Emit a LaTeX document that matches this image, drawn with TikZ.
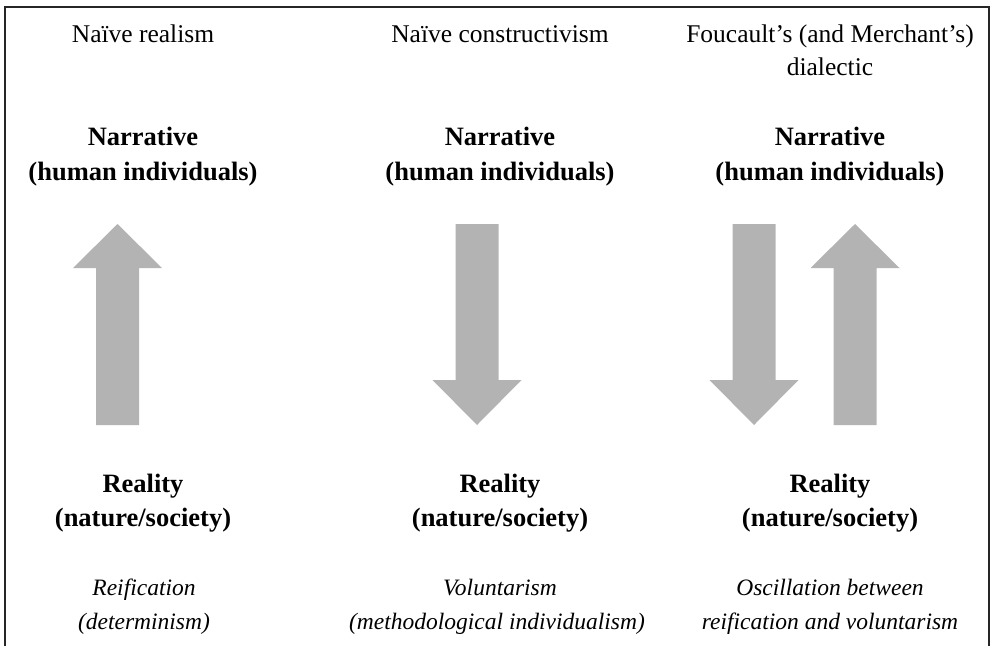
\documentclass[tikz,border=0pt]{standalone}
\usepackage{fontspec}
\setmainfont{Liberation Serif}
\definecolor{arrowgray}{HTML}{B3B3B3}
\tikzset{
  headtext/.style={anchor=base, inner sep=0pt, font=\fontsize{25.5}{30}\selectfont},
  boldtext/.style={anchor=base, inner sep=0pt, font=\fontsize{26.5}{30}\selectfont\bfseries},
  notetext/.style={anchor=base, inner sep=0pt, font=\fontsize{23.5}{28}\selectfont\itshape},
  blockarrow/.style={fill=arrowgray, draw=none},
  framepath/.style={draw=black!85, line width=1.1pt}
}
\newcommand\UpBlk[1]{\fill[blockarrow] (#1-21.5,425) -- (#1-21.5,268) -- (#1-44.5,268) -- (#1,224) -- (#1+44.5,268) -- (#1+21.5,268) -- (#1+21.5,425) -- cycle;}
\newcommand\DownBlk[1]{\fill[blockarrow] (#1-21.5,224) -- (#1+21.5,224) -- (#1+21.5,380) -- (#1+44.5,380) -- (#1,425) -- (#1-44.5,380) -- (#1-21.5,380) -- cycle;}
\begin{document}
\begin{tikzpicture}[x=1pt,y=-1pt]
\useasboundingbox (0,0) rectangle (995,646);
% frame
\draw[framepath] (5,646) -- (5,7) -- (989,7) -- (989,646);
% titles
\node[headtext] (t1) at (143,42) {Naïve realism};
\node[headtext] (t2) at (500,42) {Naïve constructivism};
\node[headtext] (t3a) at (830,42) {Foucault’s (and Merchant’s)};
\node[headtext] (t3b) at (830,75) {dialectic};
% narrative
\node[boldtext] (n1a) at (143,145) {Narrative};
\node[boldtext] (n1b) at (143,180) {(human individuals)};
\node[boldtext] (n2a) at (500,145) {Narrative};
\node[boldtext] (n2b) at (500,180) {(human individuals)};
\node[boldtext] (n3a) at (830,145) {Narrative};
\node[boldtext] (n3b) at (830,180) {(human individuals)};
% arrows
\UpBlk{117.5}
\DownBlk{477}
\DownBlk{754}
\UpBlk{855}
% reality
\node[boldtext] (r1a) at (143,492) {Reality};
\node[boldtext] (r1b) at (143,526) {(nature/society)};
\node[boldtext] (r2a) at (500,492) {Reality};
\node[boldtext] (r2b) at (500,526) {(nature/society)};
\node[boldtext] (r3a) at (830,492) {Reality};
\node[boldtext] (r3b) at (830,526) {(nature/society)};
% notes
\node[notetext] (e1a) at (144,595) {Reification};
\node[notetext] (e1b) at (144,629) {(determinism)};
\node[notetext] (e2a) at (500,595) {Voluntarism};
\node[notetext] (e2b) at (497,629) {(methodological individualism)};
\node[notetext] (e3a) at (830,595) {Oscillation between};
\node[notetext] (e3b) at (830,629) {reification and voluntarism};
\end{tikzpicture}
\end{document}
